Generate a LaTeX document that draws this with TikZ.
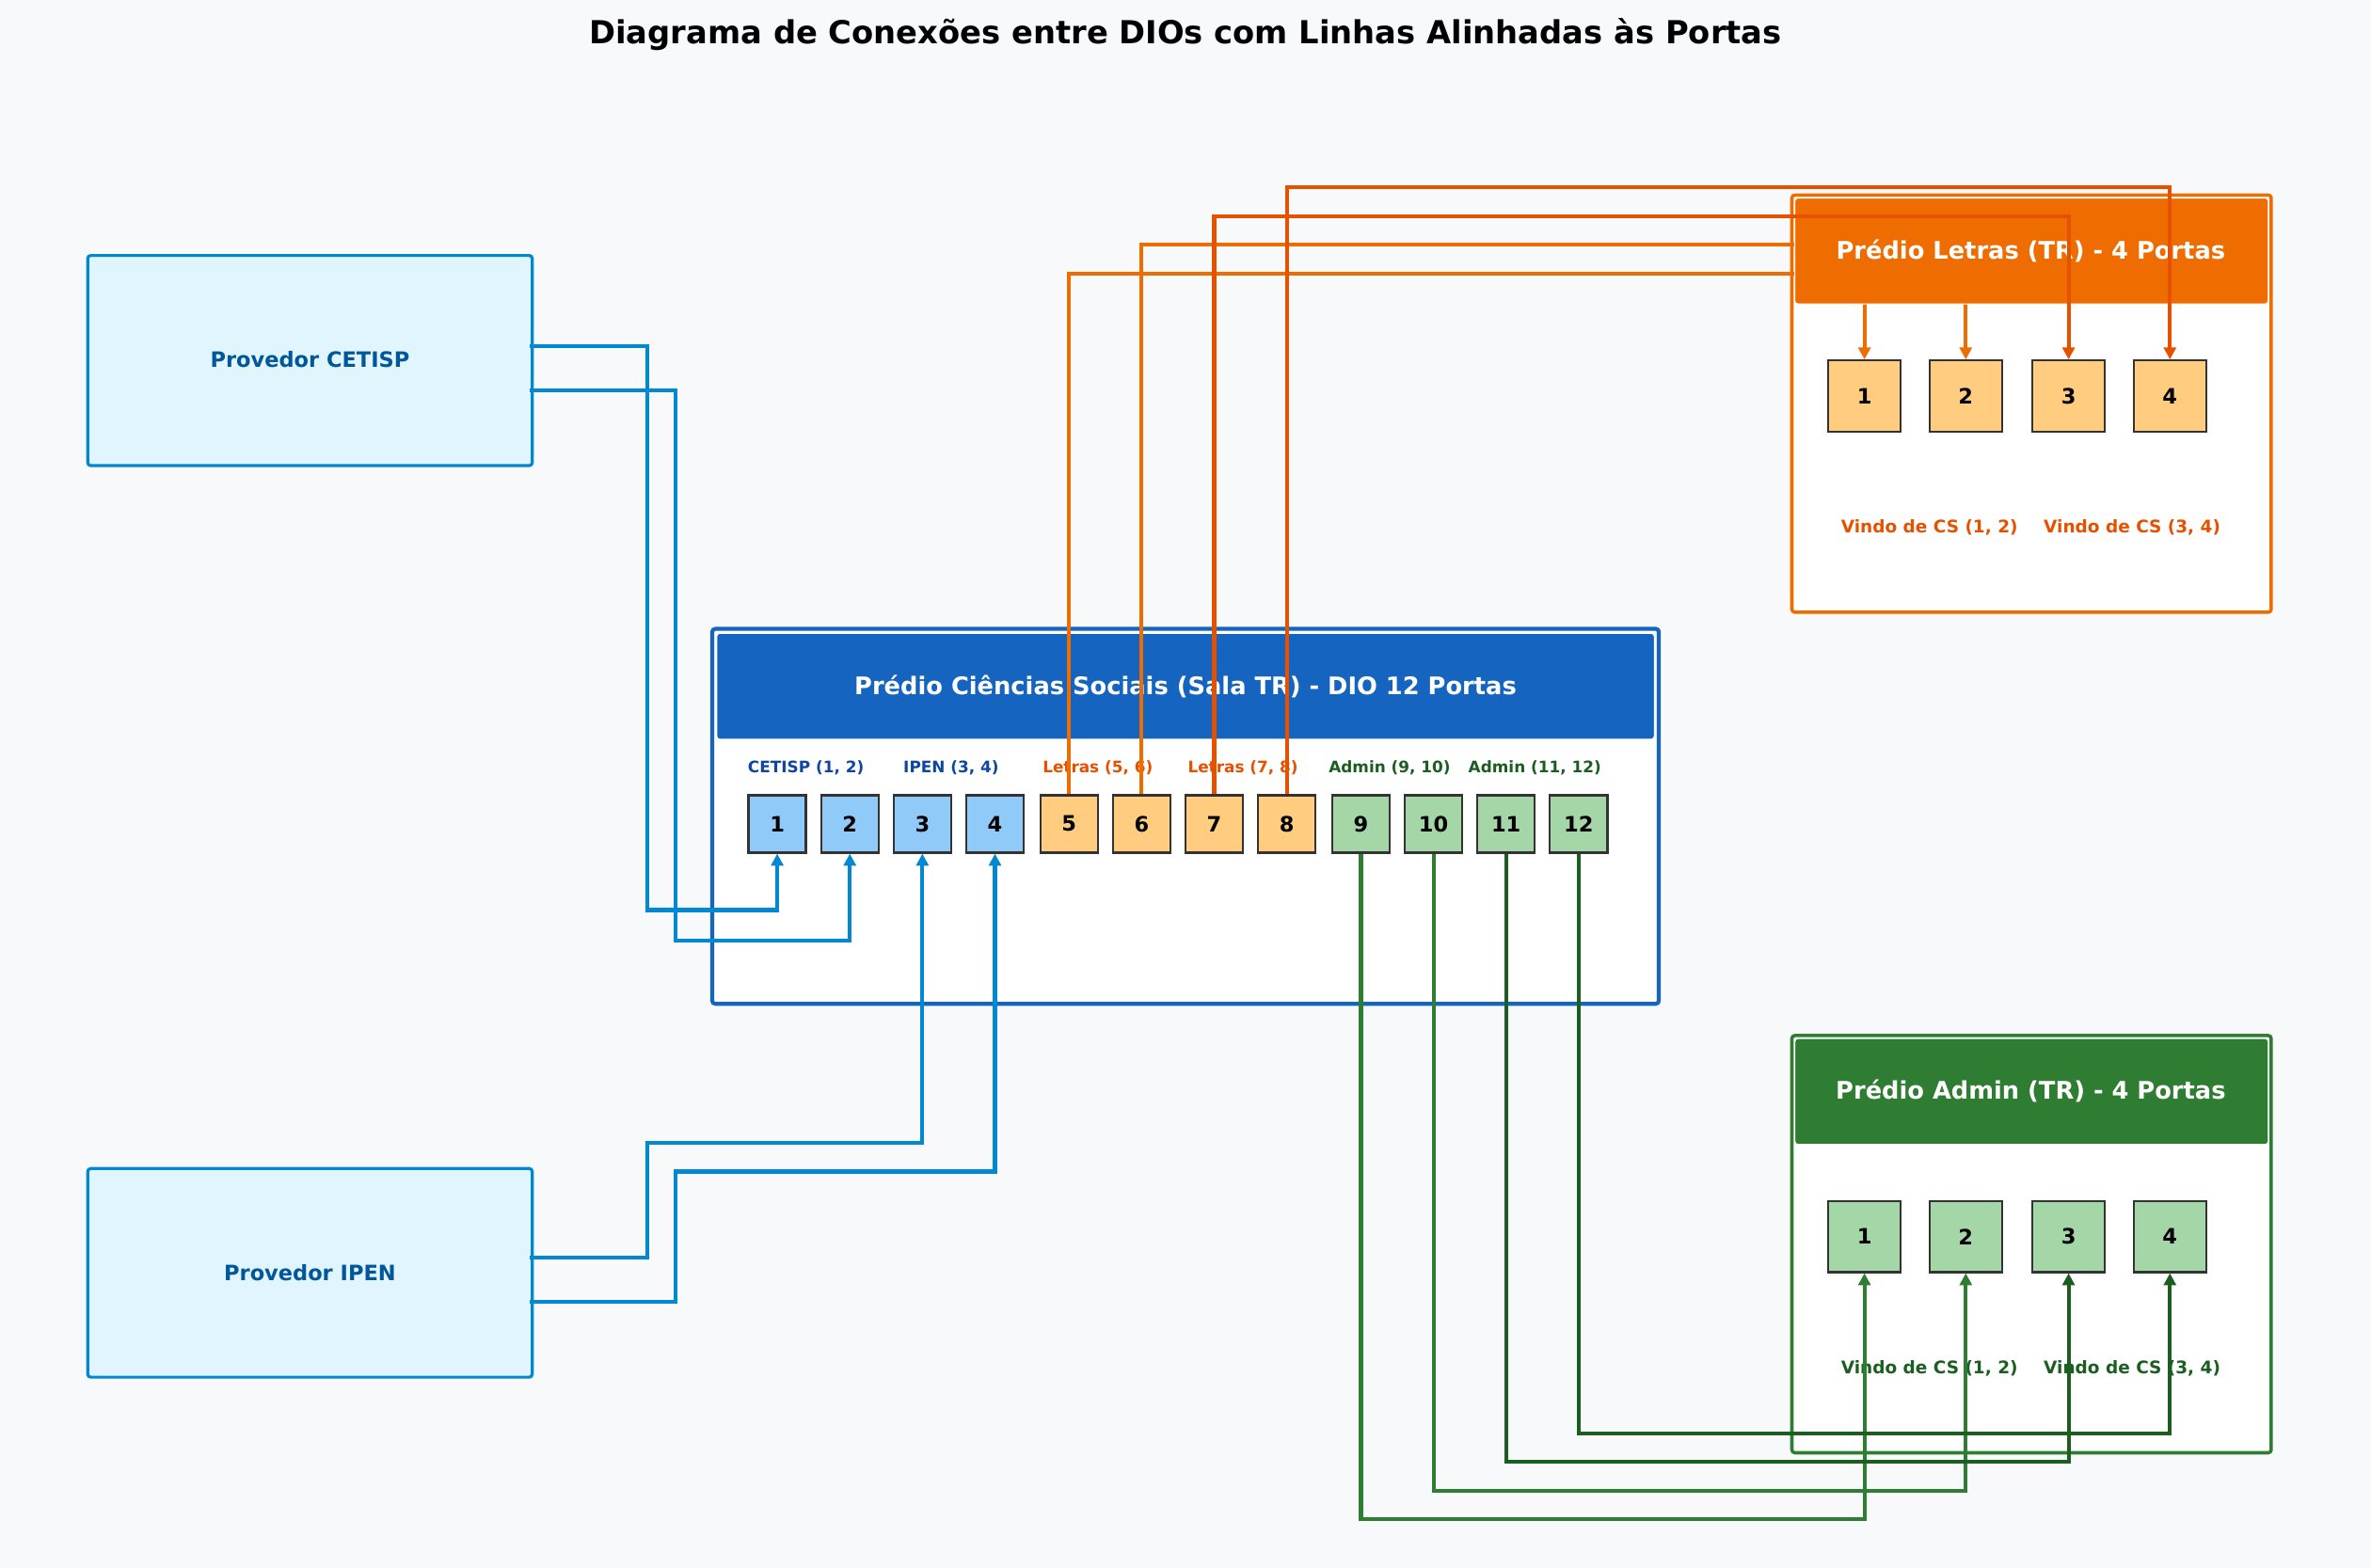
\documentclass[tikz,border=0pt]{standalone}
\usepackage{fontspec}
\setmainfont{DejaVu Sans}
\usetikzlibrary{arrows.meta}
\definecolor{bg}{HTML}{F8F9FA}
\definecolor{provfill}{HTML}{E1F5FE}
\definecolor{provdraw}{HTML}{0288D1}
\definecolor{provtext}{HTML}{01579B}
\definecolor{csblue}{HTML}{1565C0}
\definecolor{dblue}{HTML}{0D47A1}
\definecolor{orA}{HTML}{EF6C00}
\definecolor{orB}{HTML}{E65100}
\definecolor{grA}{HTML}{2E7D32}
\definecolor{grB}{HTML}{1B5E20}
\definecolor{pblue}{HTML}{90CAF9}
\definecolor{porange}{HTML}{FFCC80}
\definecolor{pgreen}{HTML}{A5D6A7}
\tikzset{
  x=1pt,y=-1pt,
  bx/.style={rounded corners=2pt,line width=2.2pt,fill=white},
  hdr/.style={rounded corners=2pt,draw=white,line width=0.6pt},
  port/.style={draw=black!80,line width=1.4pt,minimum width=38pt,minimum height=38pt,inner sep=0pt,font=\bfseries\fontsize{14}{14}\selectfont},
  bport/.style={port,minimum width=48pt,minimum height=47pt},
  wire/.style={line width=2.6pt,rounded corners=0pt},
  arr/.style={wire,-{Triangle[length=8pt,width=8pt]}},
  grp/.style={font=\bfseries\fontsize{10.5}{11}\selectfont},
  vin/.style={font=\bfseries\fontsize{11.5}{12}\selectfont},
}
\begin{document}
\begin{tikzpicture}
\fill[bg] (0,0) rectangle (1568,1037);
\useasboundingbox (0,0) rectangle (1568,1037);
\node[font=\bfseries\fontsize{21}{22}\selectfont] (title) at (784,23) {Diagrama de Conexões entre DIOs com Linhas Alinhadas às Portas};
% providers
\draw[rounded corners=2pt,fill=provfill,draw=provdraw,line width=2pt] (58,169) rectangle (352,308);
\node[text=provtext,font=\bfseries\fontsize{14}{14}\selectfont] (cetisp) at (205,238) {Provedor CETISP};
\draw[rounded corners=2pt,fill=provfill,draw=provdraw,line width=2pt] (58,773) rectangle (352,911);
\node[text=provtext,font=\bfseries\fontsize{14}{14}\selectfont] (ipen) at (205,842) {Provedor IPEN};
% boxes
\draw[bx,draw=csblue,line width=2.6pt] (471,416) rectangle (1097,664);
\fill[csblue,hdr] (474,419) rectangle (1094,489);
\node[text=white,font=\bfseries\fontsize{16}{16}\selectfont] (cst) at (784,454) {Prédio Ciências Sociais (Sala TR) - DIO 12 Portas};
\draw[bx,draw=orA] (1185,129) rectangle (1502,405);
\draw[bx,draw=grA] (1185,685) rectangle (1502,961);
\fill[grA,hdr] (1187,687) rectangle (1500,757);
\node[text=white,font=\bfseries\fontsize{16}{16}\selectfont] (adt) at (1343,722) {Prédio Admin (TR) - 4 Portas};
% group labels
\node[grp,text=dblue] (g1) at (533,508) {CETISP (1, 2)};
\node[grp,text=dblue] (g2) at (629,508) {IPEN (3, 4)};
\node[grp,text=orB] (g3) at (726,508) {Letras (5, 6)};
\node[grp,text=orB] (g4) at (822,508) {Letras (7, 8)};
\node[grp,text=grB] (g5) at (919,508) {Admin (9, 10)};
\node[grp,text=grB] (g6) at (1015,508) {Admin (11, 12)};
% CS ports
\foreach \i/\x in {1/514,2/562,3/610,4/658}{\node[port,fill=pblue] (c\i) at (\x,545) {\i};}
\foreach \i/\x in {5/707,6/755,7/803,8/851}{\node[port,fill=porange] (c\i) at (\x,545) {\i};}
\foreach \i/\x in {9/900,10/948,11/996,12/1044}{\node[port,fill=pgreen] (c\i) at (\x,545) {\i};}
% remote ports
\foreach \i/\x in {1/1233,2/1300,3/1368,4/1435}{
  \node[bport,fill=porange] (l\i) at (\x,262) {\i};
  \node[bport,fill=pgreen] (a\i) at (\x,818) {\i};}
\node[vin,text=orB] (lv1) at (1276,349) {Vindo de CS (1, 2)};
\node[vin,text=orB] (lv2) at (1410,349) {Vindo de CS (3, 4)};
\node[vin,text=grB] (av1) at (1276,905) {Vindo de CS (1, 2)};
\node[vin,text=grB] (av2) at (1410,905) {Vindo de CS (3, 4)};
% provider wires
\coordinate (p1) at (350,229); \coordinate (p2) at (350,258);
\coordinate (p3) at (350,832); \coordinate (p4) at (350,861);
\draw[arr,provdraw] (p1) -| (428,602) -| (c1.south);
\draw[arr,provdraw] (p2) -| (447,622) -| (c2.south);
\draw[arr,provdraw] (p3) -| (428,756) -| (c3.south);
\draw[arr,provdraw] (p4) -| (447,775) -| (c4.south);
% letras wires 5,6 (behind header)
\draw[arr,orA] (c5.north) |- (1233,181) -- (l1.north);
\draw[arr,orA] (c6.north) |- (1300,162) -- (l2.north);
\fill[orA,hdr] (1187,131) rectangle (1500,201);
\node[text=white,font=\bfseries\fontsize{16}{16}\selectfont] (lt) at (1343,166) {Prédio Letras (TR) - 4 Portas};
\draw[arr,orB] (c7.north) |- (1368,143) -- (l3.north);
\draw[arr,orB] (c8.north) |- (1435,124) -- (l4.north);
% admin wires
\draw[arr,grA] (c9.south) |- (1233,1005) -- (a1.south);
\draw[arr,grA] (c10.south) |- (1300,986) -- (a2.south);
\draw[arr,grB] (c11.south) |- (1368,967) -- (a3.south);
\draw[arr,grB] (c12.south) |- (1435,948) -- (a4.south);
\end{tikzpicture}
\end{document}
